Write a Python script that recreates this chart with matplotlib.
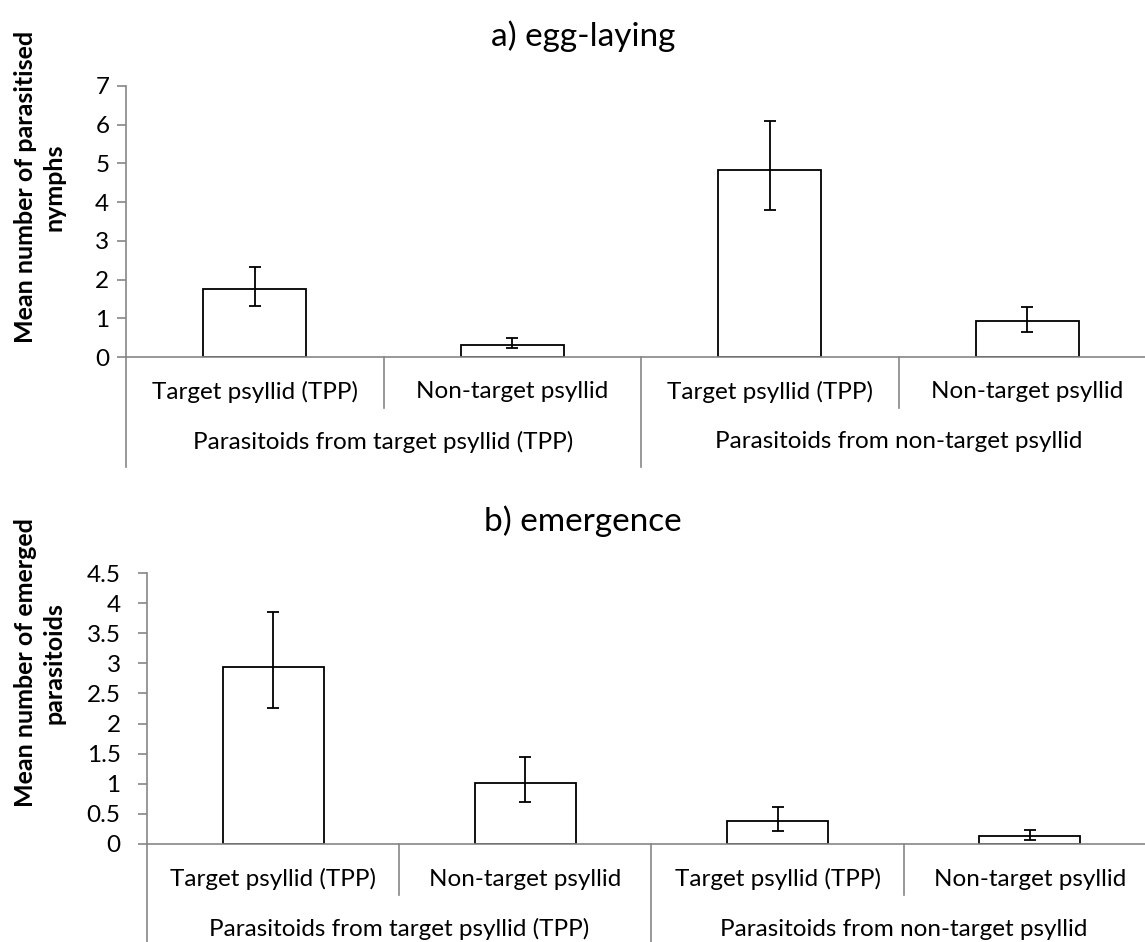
import numpy as np
import matplotlib
matplotlib.use('Agg')
import matplotlib.pyplot as plt
from matplotlib.transforms import blended_transform_factory

plt.rcParams['font.family'] = ['Lato', 'DejaVu Sans']

# host psyllid offered (inner axis labels) and parasitoid origin (outer labels)
hosts = ['Target psyllid (TPP)', 'Non-target psyllid',
         'Target psyllid (TPP)', 'Non-target psyllid']
groups = ['Parasitoids from target psyllid (TPP)',
          'Parasitoids from non-target psyllid']

# a) egg-laying: mean and error bar ends
egg_mean = [1.75, 0.32, 4.82, 0.92]
egg_low = [1.31, 0.22, 3.80, 0.65]
egg_high = [2.32, 0.50, 6.10, 1.28]

# b) emergence
emerg_mean = [2.94, 1.01, 0.38, 0.13]
emerg_low = [2.26, 0.70, 0.22, 0.07]
emerg_high = [3.86, 1.44, 0.62, 0.24]

W, H = 1145, 942
GRAY = '#868686'
FS = 17.5
fig = plt.figure(figsize=(W / 100, H / 100), dpi=100)


def add_ax(left, top, right, bottom):
    return fig.add_axes([left / W, 1 - bottom / H, (right - left) / W, (bottom - top) / H])


def panel(ax, mean, low, high, ymax, step, pad, hpx):
    mean = np.array(mean)
    yerr = [mean - np.array(low), np.array(high) - mean]
    x = np.arange(len(mean))
    ax.bar(x, mean, width=0.4, color='white', edgecolor='black', linewidth=1.3, zorder=2)
    ax.errorbar(x, mean, yerr=yerr, fmt='none', ecolor='black', elinewidth=1.3,
                capsize=4.5, capthick=1.3, zorder=3)
    ax.set_xlim(-0.5, 3.5)
    ax.set_ylim(0, ymax)
    ticks = np.arange(0, ymax + step / 2, step)
    ax.set_yticks(ticks)
    ax.set_yticklabels(['%g' % t for t in ticks])
    ax.set_xticks([])
    for s in ['top', 'right']:
        ax.spines[s].set_visible(False)
    for s in ['left', 'bottom']:
        ax.spines[s].set_color(GRAY)
        ax.spines[s].set_linewidth(1.2)
    ax.tick_params(axis='y', colors=GRAY, labelcolor='black', length=6.5, width=1.2,
                   labelsize=FS, pad=pad)

    trans = blended_transform_factory(ax.transData, ax.transAxes)
    # separators below the axis
    for xs in [0.5, 2.5]:
        ax.plot([xs, xs], [0, -51 / hpx], transform=trans, color=GRAY, lw=1.2, clip_on=False)
    for xs in [-0.5, 1.5, 3.5]:
        ax.plot([xs, xs], [0, -110 / hpx], transform=trans, color=GRAY, lw=1.2, clip_on=False)
    for i, lab in enumerate(hosts):
        ax.text(i, -35 / hpx, lab, transform=trans, ha='center', va='center', fontsize=FS)
    for j, lab in enumerate(groups):
        ax.text(2 * j + 0.5, -85 / hpx, lab, transform=trans, ha='center', va='center',
                fontsize=FS)


ax1 = add_ax(126, 86, 1156, 357)
panel(ax1, egg_mean, egg_low, egg_high, 7, 1, 5.5, 271)
ax2 = add_ax(147, 573, 1156, 844)
panel(ax2, emerg_mean, emerg_low, emerg_high, 4.5, 0.5, 12.5, 271)

fig.text(583 / W, 1 - 36 / H, 'a) egg-laying', ha='center', va='center', fontsize=24)
fig.text(583 / W, 1 - 521 / H, 'b) emergence', ha='center', va='center', fontsize=24)

fig.text(40 / W, 1 - 187 / H, 'Mean number of parasitised\nnymphs', rotation=90,
         ha='center', va='center', multialignment='center', fontsize=18,
         fontweight='bold', linespacing=1.3)
fig.text(40 / W, 1 - 663 / H, 'Mean number of emerged\nparasitoids', rotation=90,
         ha='center', va='center', multialignment='center', fontsize=18,
         fontweight='bold', linespacing=1.3)

fig.savefig('out.png', dpi=100)
